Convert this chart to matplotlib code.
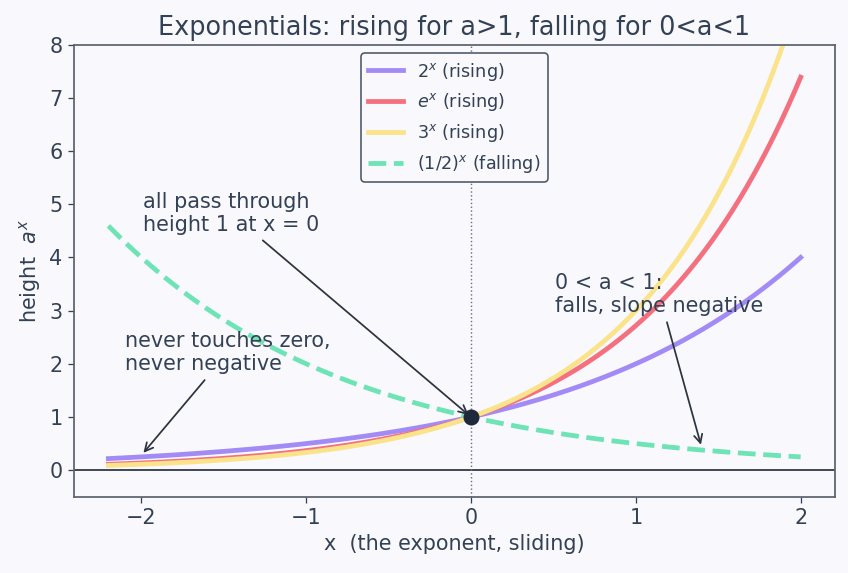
"""Exponentials a^x: three rising bases and one falling base, all through (0, 1)."""

import numpy as np
import matplotlib

matplotlib.use("Agg")
import matplotlib.pyplot as plt

# --- chart data ------------------------------------------------------------
X_RANGE = (-2.2, 2.0)
BASES = [2.0, np.e, 3.0, 0.5]
LABELS = ["$2^x$ (rising)", "$e^x$ (rising)", "$3^x$ (rising)", "$(1/2)^x$ (falling)"]
COLORS = ["#a38bf5", "#f4707f", "#fbe38c", "#6ee3b5"]
STYLES = ["-", "-", "-", "--"]
YLIM = (-0.5, 8)

TEXT = "#334155"
SPINE = "#5c6370"
BG = "#f9f9fd"
DPI = 115


def main() -> None:
    plt.rcParams["font.family"] = ["DejaVu Sans"]
    fig, ax = plt.subplots(figsize=(848 / DPI, 573 / DPI), dpi=DPI)
    fig.patch.set_facecolor(BG)
    ax.set_facecolor(BG)

    x = np.linspace(*X_RANGE, 400)
    for a, label, color, ls in zip(BASES, LABELS, COLORS, STYLES):
        ax.plot(x, a ** x, color=color, linestyle=ls, linewidth=3, label=label)

    # reference lines and the shared point
    ax.axhline(0, color="#2d3440", linewidth=1.1, zorder=1)
    ax.axvline(0, color="#6b7280", linewidth=0.9, linestyle=":", zorder=1)
    ax.plot([0], [1], "o", color="#1e293b", markersize=9, zorder=5)

    arrow = dict(arrowstyle="->", color="#2d3440", lw=1.1)
    ax.annotate("all pass through\nheight 1 at x = 0", xy=(0, 1), xytext=(-1.99, 4.42),
                fontsize=13, color=TEXT, ha="left", va="bottom", arrowprops=arrow)
    ax.annotate("never touches zero,\nnever negative", xy=(-2.0, 0.28), xytext=(-2.1, 1.8),
                fontsize=13, color=TEXT, ha="left", va="bottom", arrowprops=arrow)
    ax.annotate("0 < a < 1:\nfalls, slope negative", xy=(1.4, 0.42), xytext=(0.51, 2.9),
                fontsize=13, color=TEXT, ha="left", va="bottom", arrowprops=arrow)

    ax.set_ylim(*YLIM)
    ax.set_xticks([-2, -1, 0, 1, 2])
    ax.set_title("Exponentials: rising for a>1, falling for 0<a<1", fontsize=16, color=TEXT)
    ax.set_xlabel("x  (the exponent, sliding)", fontsize=13, color=TEXT)
    ax.set_ylabel("height  $a^x$", fontsize=13, color=TEXT)
    ax.tick_params(labelsize=13, colors=TEXT)
    for side in ax.spines.values():
        side.set_color(SPINE)
        side.set_linewidth(1.1)

    leg = ax.legend(loc="upper center", fontsize=11, framealpha=1,
                    facecolor=BG, edgecolor="#4b5563")
    for t in leg.get_texts():
        t.set_color(TEXT)

    fig.subplots_adjust(left=0.087, right=0.985, top=0.922, bottom=0.133)
    fig.savefig("out.png", dpi=DPI, facecolor=BG)
    plt.close(fig)


if __name__ == "__main__":
    main()
